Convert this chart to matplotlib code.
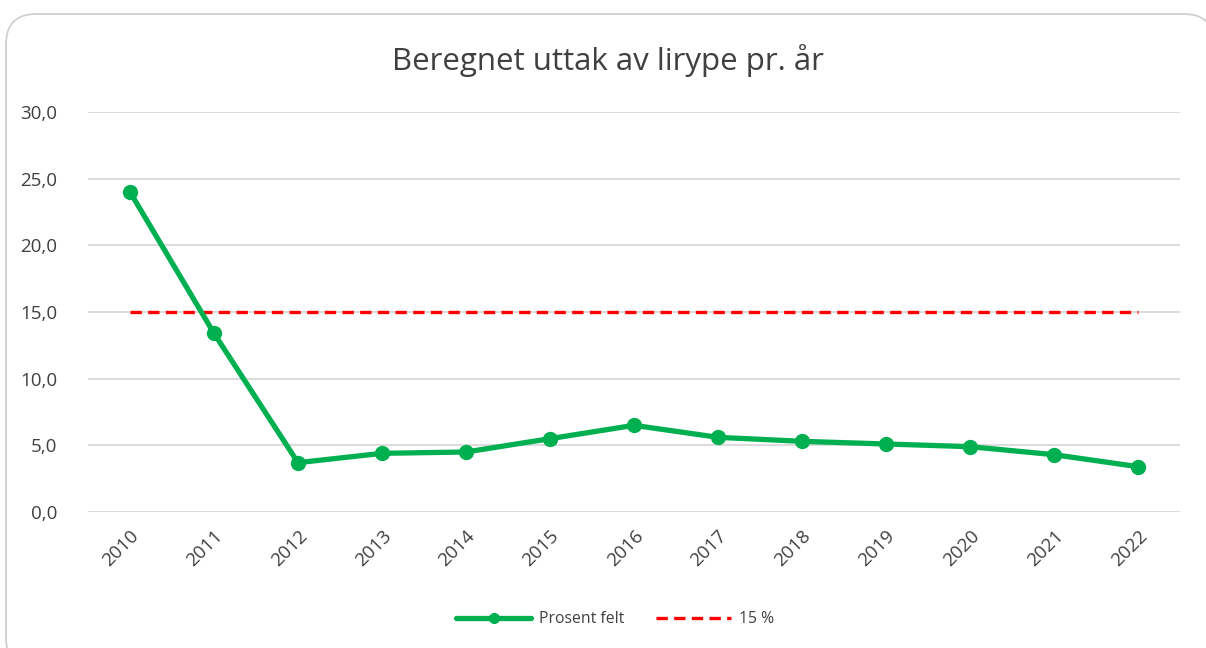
import matplotlib
matplotlib.use("Agg")
import matplotlib.pyplot as plt
from matplotlib.patches import FancyBboxPatch
from matplotlib.lines import Line2D

years = ["2010", "2011", "2012", "2013", "2014", "2015", "2016",
         "2017", "2018", "2019", "2020", "2021", "2022"]
prosent_felt = [24.0, 13.4, 3.7, 4.4, 4.5, 5.5, 6.5, 5.6, 5.3, 5.1, 4.9, 4.3, 3.4]
grense = [15.0] * len(years)
yticks = [0, 5, 10, 15, 20, 25, 30]
ytick_labels = ["0,0", "5,0", "10,0", "15,0", "20,0", "25,0", "30,0"]

plt.rcParams['font.family'] = ['Open Sans', 'DejaVu Sans']

fig = plt.figure(figsize=(12.06, 6.48), dpi=100)
W, H = 1206, 648

# rounded border
border = FancyBboxPatch((6 / W, -20 / H), (1214 - 6) / W, (648 - 14 + 20) / H,
                        boxstyle="round,pad=0,rounding_size=0.025",
                        transform=fig.transFigure, facecolor="white",
                        edgecolor="#d0d0d0", linewidth=1.3, zorder=-10,
                        mutation_aspect=W / H)
fig.patches.append(border)

ax = fig.add_axes([88 / W, 1 - 512 / H, (1180 - 88) / W, (512 - 112) / H])
ax.set_facecolor("none")
x = list(range(len(years)))

ax.plot(x, prosent_felt, color="#00b050", linewidth=3.8, marker="o",
        markersize=10, solid_capstyle="round", zorder=3)
ax.plot(x, grense, color="#ff0000", linewidth=2.4, linestyle=(0, (3.4, 1.9)),
        zorder=2)

ax.set_xlim(-0.5, len(years) - 0.5)
ax.set_ylim(0, 30)
ax.set_yticks(yticks)
ax.set_yticklabels(ytick_labels)
ax.set_xticks(x)
ax.set_xticklabels(years, rotation=45, ha="right", va="top",
                   rotation_mode="anchor")
ax.tick_params(axis="both", length=0, labelsize=13.5, labelcolor="#404040")
ax.tick_params(axis="x", pad=11)
ax.tick_params(axis="y", pad=22)
ax.grid(axis="y", color="#d9d9d9", linewidth=1.3)
ax.set_axisbelow(True)
for s in ax.spines.values():
    s.set_visible(False)

fig.text(608 / W, 1 - 61 / H, "Beregnet uttak av lirype pr. år",
         ha="center", va="center", fontsize=22.5, color="#404040")

handles = [
    Line2D([], [], color="#00b050", linewidth=3.8, marker="o", markersize=7,
           markevery=[1], solid_capstyle="round"),
    Line2D([], [], color="#ff0000", linewidth=2.4, linestyle=(0, (3.4, 1.9))),
]
leg = fig.legend(handles, ["Prosent felt", "15 %"], loc="center",
                 bbox_to_anchor=(615 / W, 1 - 619 / H), ncol=2, frameon=False,
                 fontsize=11.3, handlelength=4.8, columnspacing=2.0,
                 handletextpad=0.5)
for t in leg.get_texts():
    t.set_color("#404040")

fig.savefig("out.png", dpi=100)
